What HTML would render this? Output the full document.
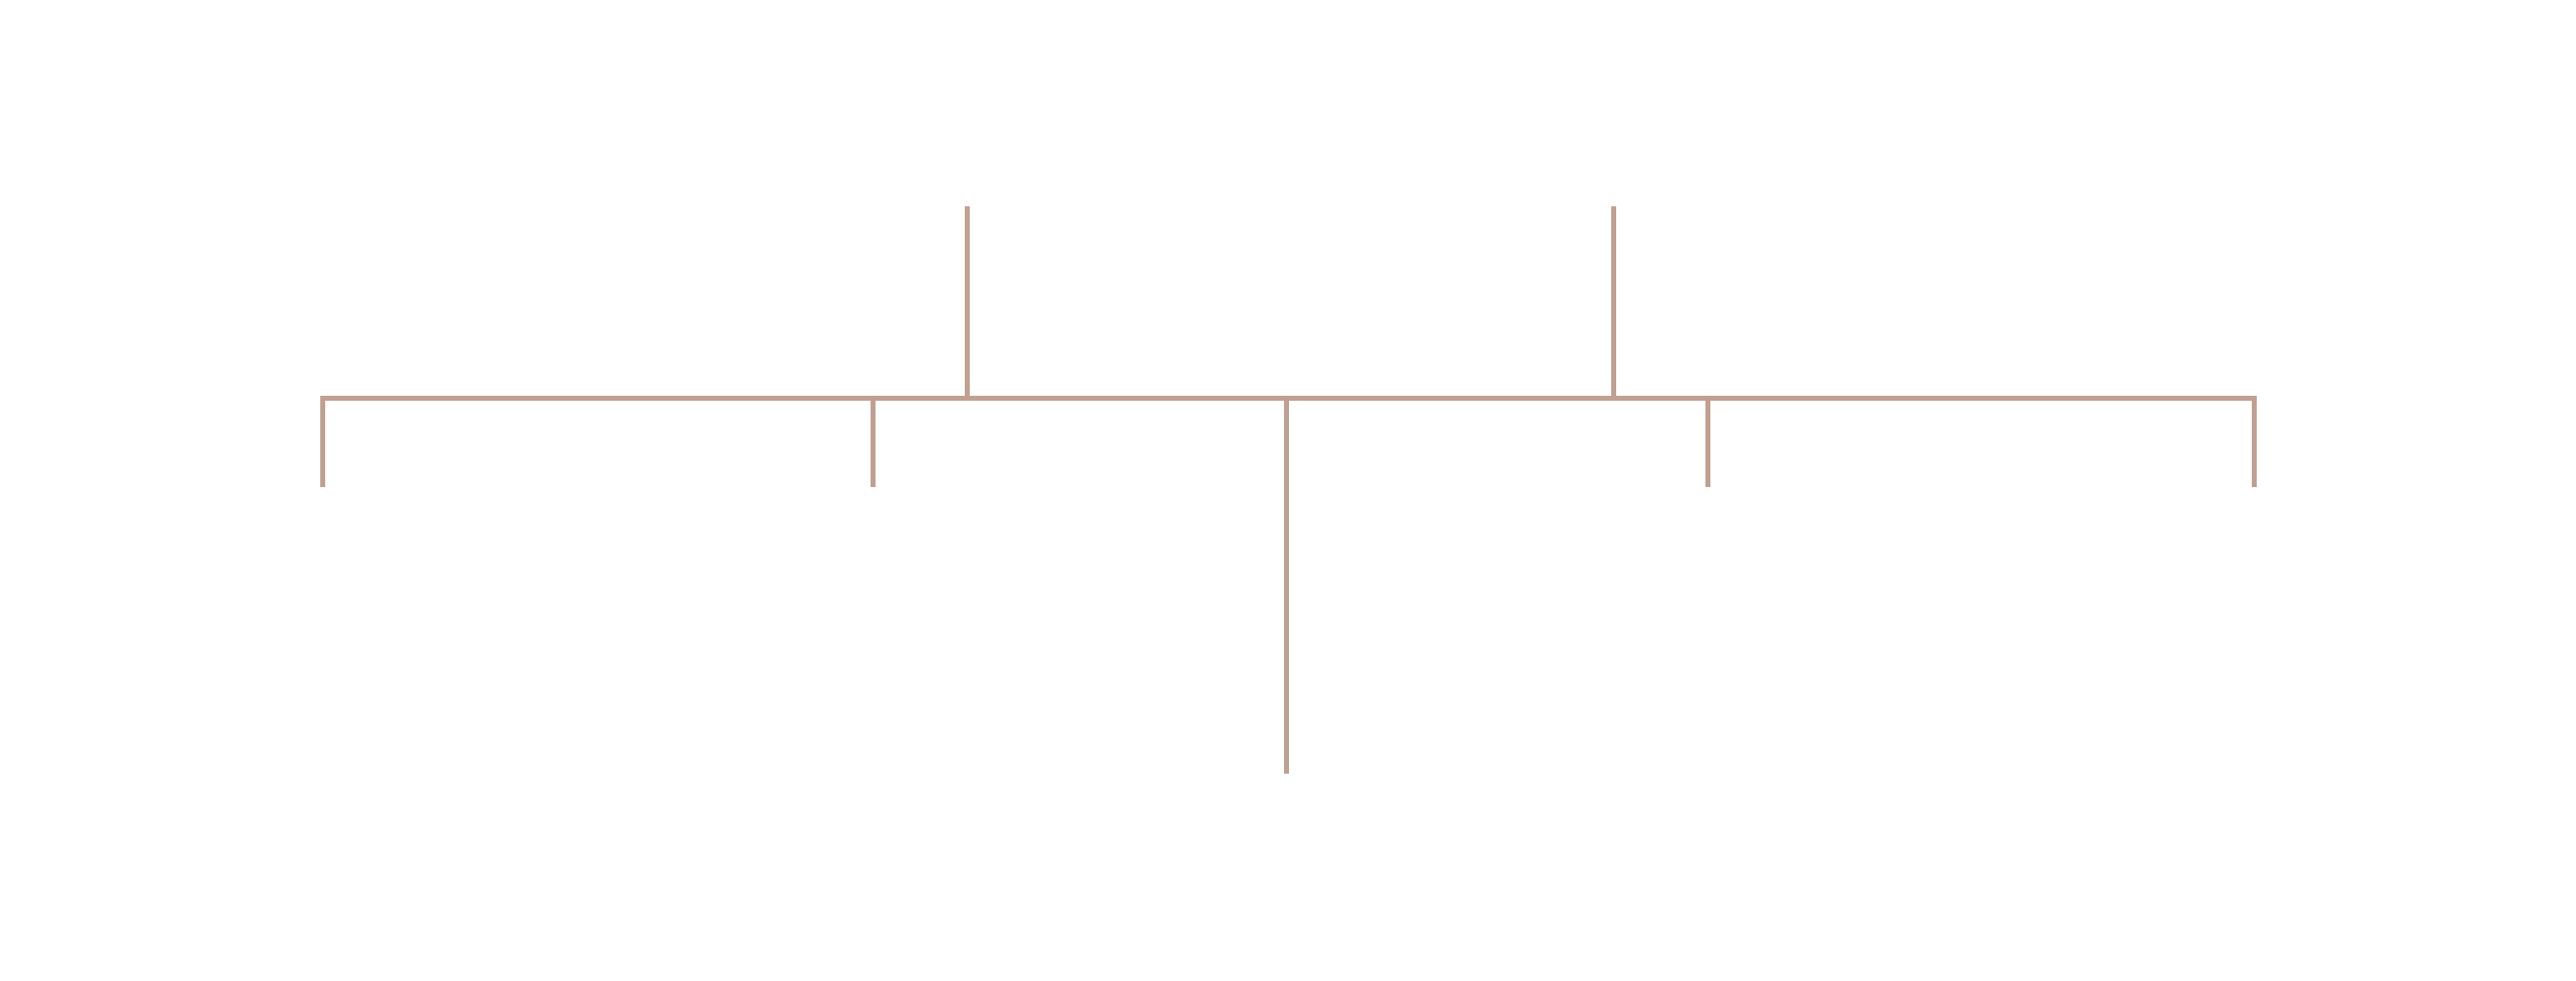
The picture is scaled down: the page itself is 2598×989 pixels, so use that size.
<!DOCTYPE html>
<html>
<head>
<meta charset="utf-8">
<style>
  html, body { margin: 0; padding: 0; background: #ffffff; }
  body { width: 2598px; height: 989px; position: relative; overflow: hidden; }
  .l { position: absolute; background: #c1a091; }
</style>
</head>
<body>
  <!-- top verticals -->
  <div class="l" style="left:973px; top:208px; width:5px; height:196px;"></div>
  <div class="l" style="left:1625px; top:208px; width:5px; height:196px;"></div>
  <!-- horizontal bar -->
  <div class="l" style="left:323px; top:399px; width:1953px; height:5px;"></div>
  <!-- branch drops -->
  <div class="l" style="left:323px; top:399px; width:5px; height:92px;"></div>
  <div class="l" style="left:878px; top:399px; width:5px; height:92px;"></div>
  <div class="l" style="left:1720px; top:399px; width:5px; height:92px;"></div>
  <div class="l" style="left:2271px; top:399px; width:5px; height:92px;"></div>
  <!-- center long drop -->
  <div class="l" style="left:1295px; top:399px; width:5px; height:381px;"></div>
</body>
</html>
